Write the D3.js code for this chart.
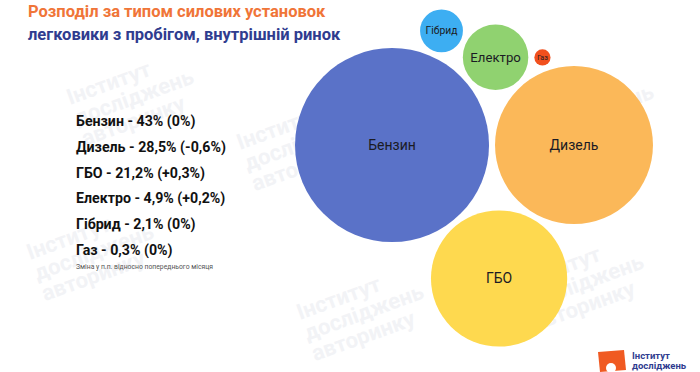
<!DOCTYPE html>
<meta charset="utf-8">
<style>
body { margin: 0; background: #fff; }
svg { font-family: Roboto, "Noto Sans", sans-serif; }
</style>
<body>
<script src="https://d3js.org/d3.v7.min.js"></script>
<script>
// data
var types   = ["Бензин", "Дизель", "ГБО", "Електро", "Гібрид", "Газ"];
var shares  = [43, 28.5, 21.2, 4.9, 2.1, 0.3];
var changes = [0, -0.6, 0.3, 0.2, 0, 0];
var colors  = ["#5a72c8", "#fbb859", "#fed94f", "#90d270", "#3daef2", "#f1501e"];

var width = 700, height = 372;

var svg = d3.select("body").append("svg")
    .attr("width", width)
    .attr("height", height);

// faint watermark
var wm = [[70, 105], [300, 320], [530, 120], [520, 290], [30, 260], [240, 150]];
wm.forEach(function(p) {
  var g = svg.append("g")
      .attr("transform", "translate(" + p[0] + "," + p[1] + ") rotate(-20)")
      .attr("fill", "#f2f3f6")
      .attr("font-weight", 700)
      .attr("font-size", 22);
  ["Інститут", "досліджень", "авторинку"].forEach(function(t, i) {
    g.append("text").attr("y", i * 22).text(t);
  });
});

// title
svg.append("text")
    .attr("x", 28).attr("y", 17)
    .attr("font-size", 16.5).attr("font-weight", 700)
    .attr("fill", "#f07538")
    .text("Розподіл за типом силових установок");
svg.append("text")
    .attr("x", 28).attr("y", 40)
    .attr("font-size", 16.5).attr("font-weight", 700)
    .attr("fill", "#2f3c8f")
    .text("легковики з пробігом, внутрішній ринок");

// legend list
function num(v) { return String(v).replace(".", ","); }
function chg(v) { return v > 0 ? "+" + num(v) + "%" : num(v) + "%"; }

var y = d3.scalePoint().domain(types).range([126, 255]);

svg.selectAll(".row")
    .data(types)
  .enter().append("text")
    .attr("class", "row")
    .attr("x", 76)
    .attr("y", function(d) { return y(d); })
    .attr("font-size", 14.2).attr("font-weight", 700)
    .attr("fill", "#111")
    .text(function(d, i) { return d + " - " + num(shares[i]) + "% (" + chg(changes[i]) + ")"; });

svg.append("text")
    .attr("x", 76).attr("y", 269)
    .attr("font-size", 6.8)
    .attr("fill", "#555")
    .text("Зміна у п.п. відносно попереднього місяця");

// bubbles
var r = d3.scaleSqrt().domain([0, 43]).range([0, 97]);
var pad = 3;

var nodes = types.map(function(t, i) {
  return {name: t, value: shares[i], color: colors[i], rr: r(shares[i]), r: r(shares[i]) + pad};
});
d3.packSiblings(nodes);

var minX = d3.min(nodes, function(d) { return d.x - d.rr; }),
    maxX = d3.max(nodes, function(d) { return d.x + d.rr; }),
    minY = d3.min(nodes, function(d) { return d.y - d.rr; }),
    maxY = d3.max(nodes, function(d) { return d.y + d.rr; });

var tx = 474 - (minX + maxX) / 2,
    ty = 178 - (minY + maxY) / 2;

var bub = svg.append("g")
    .attr("transform", "translate(" + tx + "," + ty + ")");

var node = bub.selectAll(".bubble")
    .data(nodes)
  .enter().append("g")
    .attr("class", "bubble")
    .attr("transform", function(d) { return "translate(" + d.x + "," + d.y + ")"; });

node.append("circle")
    .attr("r", function(d) { return d.rr; })
    .attr("fill", function(d) { return d.color; });

node.append("text")
    .attr("text-anchor", "middle")
    .attr("dy", "0.35em")
    .attr("font-size", function(d) { return Math.min(14, 5 + d.rr * 0.25); })
    .attr("fill", "#1b1b24")
    .text(function(d) { return d.name; });

// logo, bottom right
var logo = svg.append("g").attr("transform", "translate(598,350)");
logo.append("path")
    .attr("d", "M0,2 L26,0 L28,20 L2,22 Z")
    .attr("fill", "#f05a22");
logo.append("circle").attr("cx", 13).attr("cy", 18).attr("r", 5).attr("fill", "#fff");
logo.append("text")
    .attr("x", 34).attr("y", 9)
    .attr("font-size", 9.5).attr("font-weight", 700).attr("fill", "#2f3c8f")
    .text("Інститут");
logo.append("text")
    .attr("x", 34).attr("y", 19)
    .attr("font-size", 9.5).attr("font-weight", 700).attr("fill", "#2f3c8f")
    .text("досліджень");
</script>
</body>
